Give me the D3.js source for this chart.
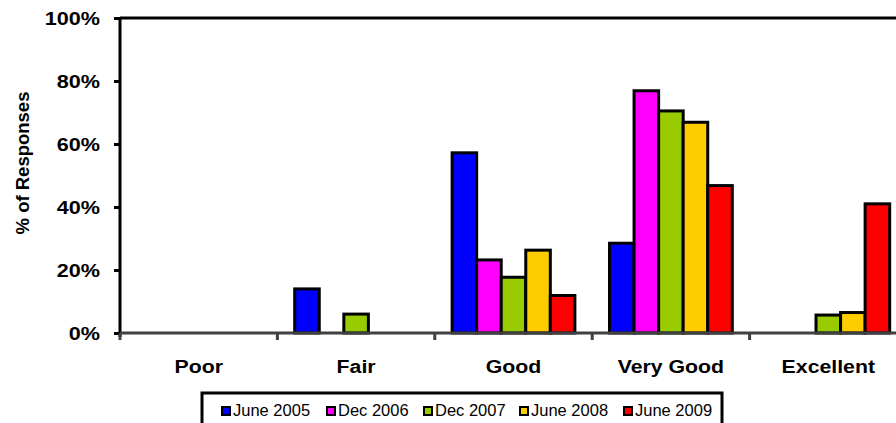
<!DOCTYPE html>
<html>
<head>
<meta charset="utf-8">
<script src="https://cdn.jsdelivr.net/npm/d3@7"></script>
<style>
  body { margin: 0; background: #fff; }
  svg { display: block; font-family: "Liberation Sans", Arial, sans-serif; }
</style>
</head>
<body>
<div id="chart"></div>
<script>
// ratings and survey waves
const categories = ['Poor', 'Fair', 'Good', 'Very Good', 'Excellent'];
const seriesNames = ['June 2005', 'Dec 2006', 'Dec 2007', 'June 2008', 'June 2009'];
const seriesColors = ['#0000ff', '#ff00ff', '#99cc00', '#ffcc00', '#ff0000'];

// % of responses, one array per wave (Poor..Excellent)
const june2005 = [0, 14, 57.2, 28.5, 0];
const dec2006 = [0, 0, 23.2, 76.9, 0];
const dec2007 = [0, 6, 17.7, 70.5, 5.7];
const june2008 = [0, 0, 26.3, 66.9, 6.5];
const june2009 = [0, 0, 11.9, 46.8, 41];
const seriesValues = [june2005, dec2006, dec2007, june2008, june2009];

const yTicks = [0, 20, 40, 60, 80, 100];

const width = 896, height = 423;
const margin = { top: 18, left: 120, bottom: 90 };
const plotW = 787;              // plot runs past the right edge, as in the original
const plotH = height - margin.top - margin.bottom;
const stretch = 1.2;            // the original's labels are drawn a bit wide

const svg = d3.select('#chart').append('svg')
    .attr('width', width)
    .attr('height', height);

const g = svg.append('g')
    .attr('transform', `translate(${margin.left},${margin.top})`);

const x = d3.scaleBand()
    .domain(categories)
    .range([0, plotW])
    .paddingInner(0.22)
    .paddingOuter(0.11);

const xs = d3.scaleBand()
    .domain(seriesNames)
    .range([0, x.bandwidth()]);

const y = d3.scaleLinear()
    .domain([0, 100])
    .range([plotH, 0]);

// top border of plot area
g.append('line')
    .attr('x1', 0).attr('x2', plotW + 20)
    .attr('y1', 0).attr('y2', 0)
    .attr('stroke', '#000').attr('stroke-width', 3);

// bars
const groups = g.selectAll('g.series')
    .data(seriesNames)
    .enter().append('g')
    .attr('class', 'series');

groups.each(function(name, si) {
    const rows = categories.map((c, ci) => ({ c, v: seriesValues[si][ci] }))
        .filter(d => d.v > 0);
    d3.select(this).selectAll('rect')
        .data(rows)
        .enter().append('rect')
        .attr('x', d => x(d.c) + xs(name))
        .attr('y', d => y(d.v))
        .attr('width', xs.bandwidth())
        .attr('height', d => plotH - y(d.v))
        .attr('fill', seriesColors[si])
        .attr('stroke', '#000')
        .attr('stroke-width', 3);
});

// y axis
const yAxis = g.append('g')
    .call(d3.axisLeft(y).tickValues(yTicks).tickSize(6).tickFormat(d => d + '%'));
yAxis.select('.domain').attr('stroke', '#000').attr('stroke-width', 3)
    .attr('d', `M0,${plotH + 4}V0`);
yAxis.selectAll('.tick line').attr('stroke', '#000').attr('stroke-width', 3);
yAxis.selectAll('.tick text')
    .attr('x', -20 / stretch)
    .attr('dy', '0.36em')
    .attr('transform', `scale(${stretch},1)`)
    .style('font-size', '18px')
    .style('font-weight', 'bold')
    .attr('fill', '#000');

// x axis
const xAxis = g.append('g')
    .attr('transform', `translate(0,${plotH})`);
xAxis.append('line')
    .attr('x1', 0).attr('x2', plotW + 20)
    .attr('stroke', '#404040').attr('stroke-width', 3);
const bounds = d3.range(categories.length + 1).map(i => i * x.step());
xAxis.selectAll('line.tk')
    .data(bounds)
    .enter().append('line')
    .attr('class', 'tk')
    .attr('x1', d => d).attr('x2', d => d)
    .attr('y1', 0).attr('y2', 7)
    .attr('stroke', '#404040').attr('stroke-width', 3);
xAxis.selectAll('text')
    .data(categories)
    .enter().append('text')
    .attr('transform', d => `translate(${x(d) + x.bandwidth() / 2},40) scale(1.12,1)`)
    .attr('text-anchor', 'middle')
    .style('font-size', '19px')
    .style('font-weight', 'bold')
    .text(d => d);

// y axis title
svg.append('text')
    .attr('transform', 'translate(29,163) rotate(-90)')
    .attr('text-anchor', 'middle')
    .style('font-size', '18.5px')
    .style('font-weight', 'bold')
    .text('% of Responses');

// legend
const legend = svg.append('g').attr('transform', 'translate(202,393)');
legend.append('rect')
    .attr('x', 0).attr('y', 0)
    .attr('width', 520).attr('height', 40)
    .attr('fill', '#fff').attr('stroke', '#000').attr('stroke-width', 3);
const legendX = [19, 124, 221, 317, 421];
const items = legend.selectAll('g.item')
    .data(seriesNames)
    .enter().append('g')
    .attr('class', 'item')
    .attr('transform', (d, i) => `translate(${legendX[i]},0)`);
items.append('rect')
    .attr('x', 1).attr('y', 14)
    .attr('width', 8).attr('height', 8)
    .attr('fill', (d, i) => seriesColors[i])
    .attr('stroke', '#000').attr('stroke-width', 2);
items.append('text')
    .attr('x', 12).attr('y', 23)
    .style('font-size', '16.5px')
    .text(d => d);
</script>
</body>
</html>
